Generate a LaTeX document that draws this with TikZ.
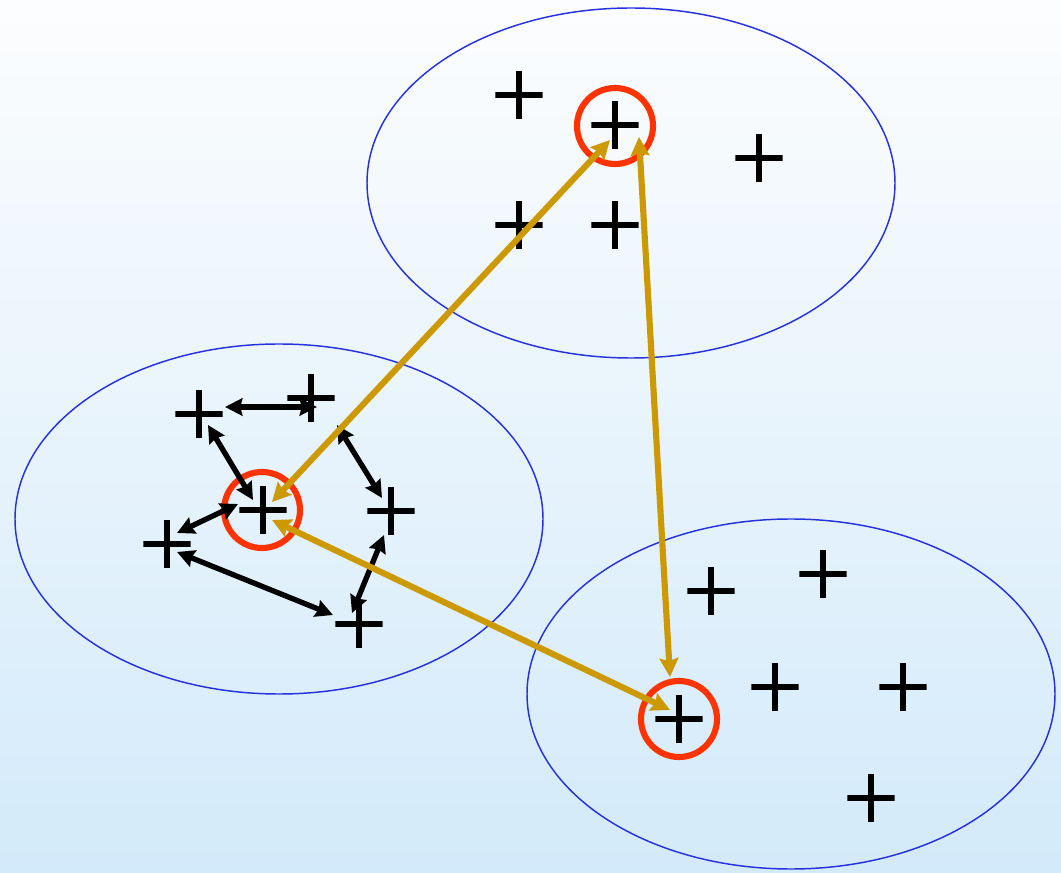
\documentclass[tikz,border=0pt]{standalone}
\usetikzlibrary{arrows.meta,shapes.geometric}
\definecolor{gold}{RGB}{204,153,0}
\definecolor{ringred}{RGB}{255,51,0}
\definecolor{ellblue}{RGB}{40,50,220}
\definecolor{bgtop}{RGB}{252,253,254}
\definecolor{bgbot}{RGB}{211,234,250}
\begin{document}
\begin{tikzpicture}[x=0.75pt,y=-0.75pt,
  crossmark/.style={minimum size=35.5pt,inner sep=0pt,
    path picture={\draw[line width=4.6pt,black]
      (path picture bounding box.north) -- (path picture bounding box.south)
      (path picture bounding box.west) -- (path picture bounding box.east);}},
  cluster/.style={draw=ellblue,line width=1.1pt,ellipse,minimum width=396pt,minimum height=262.5pt,inner sep=0pt},
  ring/.style={draw=ringred,circle,line width=4.6pt,minimum size=57pt,inner sep=0pt},
  blackarrow/.style={line width=4pt,black,{Stealth[length=13pt,width=13pt,inset=1.5pt]}-{Stealth[length=13pt,width=13pt,inset=1.5pt]}},
  goldarrow/.style={line width=4.6pt,gold,{Stealth[length=14pt,width=14pt,inset=2pt]}-{Stealth[length=14pt,width=14pt,inset=2pt]}}]
\shade[top color=bgtop,bottom color=bgbot] (0,0) rectangle (1061,873);
\useasboundingbox (0,0) rectangle (1061,873);
% clusters
\node[cluster] (cTop) at (631,183) {};
\node[cluster] (cLeft) at (279,519) {};
\node[cluster] (cRight) at (791,694) {};
% crosses top
\node[crossmark] (t1) at (519,95) {};
\node[crossmark] (t2) at (615,125) {};
\node[crossmark] (t3) at (759,158) {};
\node[crossmark] (t4) at (519,225) {};
\node[crossmark] (t5) at (615,225) {};
% crosses left
\node[crossmark] (l1) at (199,414) {};
\node[crossmark] (l2) at (311,398) {};
\node[crossmark] (l3) at (263,510) {};
\node[crossmark] (l4) at (391,511) {};
\node[crossmark] (l5) at (167,544) {};
\node[crossmark] (l6) at (359,624) {};
% crosses right
\node[crossmark] (b1) at (711,591) {};
\node[crossmark] (b2) at (823,574) {};
\node[crossmark] (b3) at (679,719) {};
\node[crossmark] (b4) at (775,687) {};
\node[crossmark] (b5) at (903,687) {};
\node[crossmark] (b6) at (871,798) {};
% rings
\node[ring] (rTop) at (615,126) {};
\node[ring] (rLeft) at (262,510) {};
\node[ring] (rRight) at (679,719) {};
% arrow end points
\coordinate (a1s) at (225,407); \coordinate (a1e) at (317,407);
\coordinate (a2s) at (208,425); \coordinate (a2e) at (253,500);
\coordinate (a3s) at (177,533); \coordinate (a3e) at (238,504);
\coordinate (a4s) at (177,552); \coordinate (a4e) at (333,615);
\coordinate (a5s) at (337,425); \coordinate (a5e) at (382,498);
\coordinate (a6s) at (384,535); \coordinate (a6e) at (352,613);
\coordinate (g1s) at (610,140); \coordinate (g1e) at (272,502);
\coordinate (g2s) at (639,137); \coordinate (g2e) at (670,677);
\coordinate (g3s) at (272,520); \coordinate (g3e) at (670,710);
% black arrows
\draw[blackarrow] (a1s) -- (a1e);
\draw[blackarrow] (a2s) -- (a2e);
\draw[blackarrow] (a3s) -- (a3e);
\draw[blackarrow] (a4s) -- (a4e);
\draw[blackarrow] (a5s) -- (a5e);
\draw[blackarrow] (a6s) -- (a6e);
% gold arrows
\draw[goldarrow] (g1s) -- (g1e);
\draw[goldarrow] (g2s) -- (g2e);
\draw[goldarrow] (g3s) -- (g3e);
\end{tikzpicture}
\end{document}
